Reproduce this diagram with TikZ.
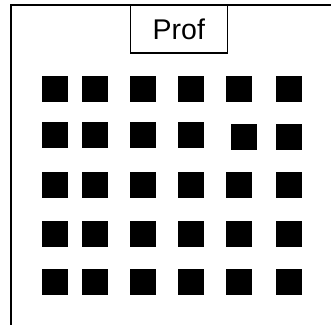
\documentclass[tikz,border=0pt]{standalone}
\usepackage{fontspec}
\setmainfont{Liberation Sans}
\begin{document}
\begin{tikzpicture}[x=1pt,y=-1pt,
  seat/.style={fill=black,draw=none,minimum size=26pt,inner sep=0pt,outer sep=0pt},
  profbox/.style={draw=black,line width=1.3pt,fill=white,minimum width=97pt,minimum height=48pt,inner sep=0pt,font=\fontsize{28.5}{34}\selectfont}]
\useasboundingbox (0,0) rectangle (331,324);
\clip (0,0) rectangle (331,324);
\fill[white] (0,0) rectangle (331,324);
% room frame (right and bottom edges lie outside the picture)
\draw[line width=2pt] (11,340) -- (11,5.3) -- (345,5.3);
\node[profbox] (prof) at (178.8,29) {\raisebox{-3pt}{Prof}};
% seats
\foreach \r/\y in {1/89.3,3/185,4/233.7,5/281.7}{
  \foreach \c/\x in {1/54.7,2/94.7,3/143,4/191.3,5/239,6/289}{
    \node[seat] (s\r\c) at (\x,\y) {};
  }
}
\foreach \c/\x/\y in {1/54.7/135.3,2/94.7/135.3,3/143/135.3,4/191.3/135.3,5/243.7/137.3,6/289/137.3}{
  \node[seat] (s2\c) at (\x,\y) {};
}
\end{tikzpicture}
\end{document}
